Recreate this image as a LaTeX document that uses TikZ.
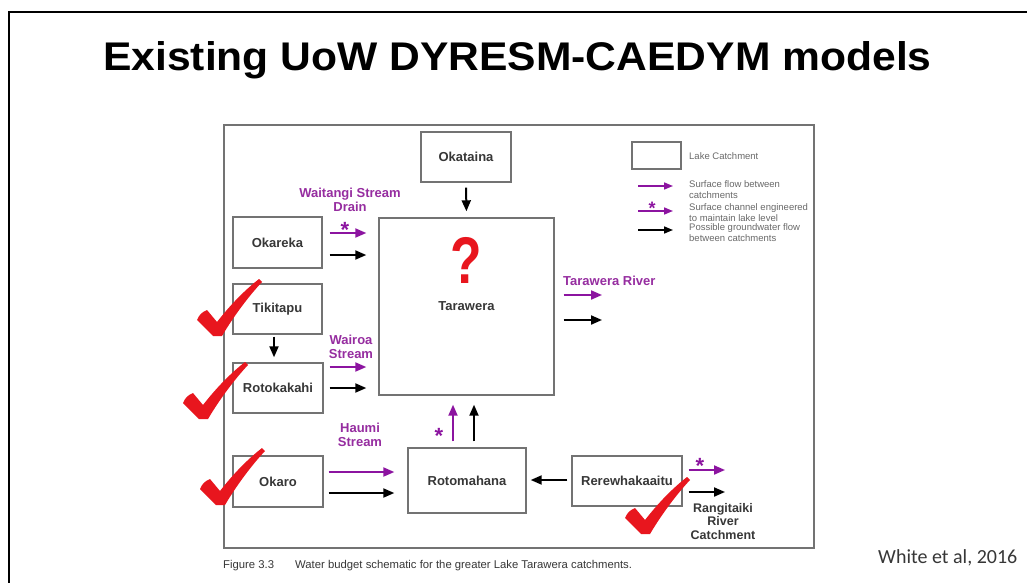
\documentclass[tikz,border=0pt]{standalone}
\usepackage{fontspec}
\setmainfont{Liberation Sans}
\newfontfamily\carlito{Carlito}
\usetikzlibrary{arrows.meta,calc}
\definecolor{pur}{RGB}{140,20,160}
\definecolor{purtxt}{RGB}{150,45,160}
\definecolor{boxgray}{RGB}{115,115,115}
\definecolor{chkred}{RGB}{232,22,30}
\definecolor{lbl}{RGB}{55,55,55}
\definecolor{legtxt}{RGB}{105,105,105}
\newcommand\redtick[1]{%
  \fill[chkred,shift={#1}] (-20,-14) .. controls (-18,-19) and (-15,-22) .. (-10,-24)
    -- (0,-12) .. controls (14,-30) and (28,-44) .. (42,-55)
    -- (45,-52) .. controls (30,-36) and (15,-15) .. (5,2) -- (-4,2) -- cycle;}
\begin{document}
\begin{tikzpicture}[x=1pt,y=-1pt,
  lake/.style={draw=boxgray,line width=1.4pt,inner sep=0pt,font=\bfseries\fontsize{13}{15}\selectfont,text=lbl},
  flow/.style={line width=2pt,-{Triangle[length=11pt,width=9pt]}},
  pflow/.style={flow,draw=pur},
  gflow/.style={flow,draw=black},
  lflow/.style={line width=1.6pt,-{Triangle[length=9pt,width=7pt]}},
  ptext/.style={font=\bfseries\fontsize{13}{14}\selectfont,text=purtxt,align=center,inner sep=0pt},
  star/.style={font=\bfseries\fontsize{22}{22}\selectfont,text=pur,inner sep=0pt,anchor=base},
  leg/.style={font=\fontsize{9.5}{11}\selectfont,text=legtxt,anchor=north west,align=left,inner sep=0pt},
]
\useasboundingbox (0,0) rectangle (1027,583);
\fill[white] (0,0) rectangle (1027,583);
\draw[line width=2pt] (1027,12) -- (9,12) -- (9,583);

% title
\node[font=\bfseries\fontsize{40}{41}\selectfont, anchor=base west, inner sep=0pt] (title) at (103,71)
  {\scalebox{1.065}[1]{Existing UoW DYRESM-CAEDYM models}};

% figure frame
\draw[boxgray,line width=1.4pt] (224,125) rectangle (814,548);

% lakes
\node[lake,minimum width=90pt,minimum height=50pt] (okataina) at (466,157) {Okataina};
\node[lake,minimum width=175pt,minimum height=177pt] (tarawera) at (466.5,306.5) {Tarawera};
\node[font=\bfseries\fontsize{66}{66}\selectfont,text=chkred,inner sep=0pt] (q) at (466,260) {\scalebox{0.78}[1]{?}};
\node[lake,minimum width=89pt,minimum height=51pt] (okareka) at (277.5,242.5) {Okareka};
\node[lake,minimum width=89pt,minimum height=50pt] (tikitapu) at (277.5,309) {Tikitapu};
\node[lake,minimum width=90pt,minimum height=50pt] (rotokakahi) at (278,388) {Rotokakahi};
\node[lake,minimum width=90pt,minimum height=51pt] (okaro) at (278,481.5) {Okaro};
\node[lake,minimum width=118pt,minimum height=65pt] (rotomahana) at (467,480.5) {Rotomahana};
\node[lake,minimum width=110pt,minimum height=50pt] (rerew) at (627,481) {Rerewhakaaitu};

% rows / columns for arrows
\coordinate (yOkP) at (0,233);
\coordinate (yOkB) at (0,255);
\coordinate (yWaP) at (0,367);
\coordinate (yWaB) at (0,388);
\coordinate (yHaP) at (0,472);
\coordinate (yHaB) at (0,493);
\coordinate (xRmP) at (453,0);
\coordinate (xRmB) at (474,0);
\coordinate (yReB) at (0,480);
\coordinate (trP) at (602,295);
\coordinate (trB) at (602,320);
\coordinate (rgP) at (725,470);
\coordinate (rgB) at (725,492);

% connectors
\draw[gflow,shorten <=5pt,shorten >=6pt] (okataina.south) -- (tarawera.north);
\draw[pflow,shorten <=7pt,shorten >=12pt] (okareka.east |- yOkP) -- (tarawera.west |- yOkP);
\draw[gflow,shorten <=7pt,shorten >=12pt] (okareka.east |- yOkB) -- (tarawera.west |- yOkB);
\draw[gflow,shorten <=2pt,shorten >=5pt] (tikitapu.south -| 274,0) -- (rotokakahi.north -| 274,0);
\draw[pflow,shorten <=6pt,shorten >=12pt] (rotokakahi.east |- yWaP) -- (tarawera.west |- yWaP);
\draw[gflow,shorten <=6pt,shorten >=12pt] (rotokakahi.east |- yWaB) -- (tarawera.west |- yWaB);
\draw[pflow,shorten <=9pt] (tarawera.east |- trP) -- (trP);
\draw[gflow,shorten <=9pt] (tarawera.east |- trB) -- (trB);
\draw[pflow,shorten <=5pt,shorten >=13pt] (okaro.east |- yHaP) -- (rotomahana.west |- yHaP);
\draw[gflow,shorten <=5pt,shorten >=13pt] (okaro.east |- yHaB) -- (rotomahana.west |- yHaB);
\draw[pflow,shorten <=6pt,shorten >=9pt] (rotomahana.north -| xRmP) -- (tarawera.south -| xRmP);
\draw[gflow,shorten <=6pt,shorten >=9pt] (rotomahana.north -| xRmB) -- (tarawera.south -| xRmB);
\draw[gflow,shorten <=4pt,shorten >=4pt] (rerew.west |- yReB) -- (rotomahana.east |- yReB);
\draw[pflow,shorten <=6pt] (rerew.east |- rgP) -- (rgP);
\draw[gflow,shorten <=6pt] (rerew.east |- rgB) -- (rgB);

% stars
\node[star] (s1) at (345,237) {*};
\node[star] (s2) at (439,443) {*};
\node[star] (s3) at (700,473) {*};

% flow labels
\node[ptext] (lwait) at (350,200) {Waitangi Stream\\Drain};
\node[ptext] (lwair) at (351,347) {Wairoa\\Stream};
\node[ptext] (lhaumi) at (360,434.5) {Haumi\\Stream};
\node[ptext,anchor=west] (ltarr) at (563,281) {Tarawera River};
\node[ptext,text=lbl,font=\bfseries\fontsize{12.5}{13.5}\selectfont] (lrang) at (723,521.5) {Rangitaiki\\River\\Catchment};

% legend
\node[draw=boxgray,line width=1.2pt,minimum width=49pt,minimum height=27pt,inner sep=0pt] (legbox) at (656.5,155.5) {};
\node[leg,anchor=west] (lt1) at (689,156) {Lake Catchment};
\coordinate (l1s) at (638,186); \coordinate (l1e) at (673,186);
\coordinate (l2s) at (638,211); \coordinate (l2e) at (673,211);
\coordinate (l3s) at (638,230); \coordinate (l3e) at (673,230);
\draw[lflow,draw=pur] (l1s) -- (l1e);
\draw[lflow,draw=pur] (l2s) -- (l2e);
\draw[lflow,draw=black] (l3s) -- (l3e);
\node[star,font=\bfseries\fontsize{18}{18}\selectfont] (ls) at (652,214) {*};
\node[leg] (lt2) at (689,180) {Surface flow between\\catchments};
\node[leg] (lt3) at (689,203) {Surface channel engineered\\to maintain lake level};
\node[leg] (lt4) at (689,223) {Possible groundwater flow\\between catchments};

% caption
\node[anchor=base west,font=\fontsize{11.3}{12}\selectfont,text=lbl,inner sep=0pt] (figno) at (223,568) {Figure 3.3};
\node[anchor=base west,font=\fontsize{11.3}{12}\selectfont,text=lbl,inner sep=0pt] (cap) at (295,568) {Water budget schematic for the greater Lake Tarawera catchments.};

% source
\node[anchor=base west,font=\carlito\fontsize{20}{22}\selectfont,text=lbl,inner sep=0pt] (src) at (878,563) {White et al, 2016};

% ticks
\redtick{(217,334)}
\redtick{(203,417)}
\redtick{(220,503)}
\redtick{(645,532)}
\end{tikzpicture}
\end{document}
